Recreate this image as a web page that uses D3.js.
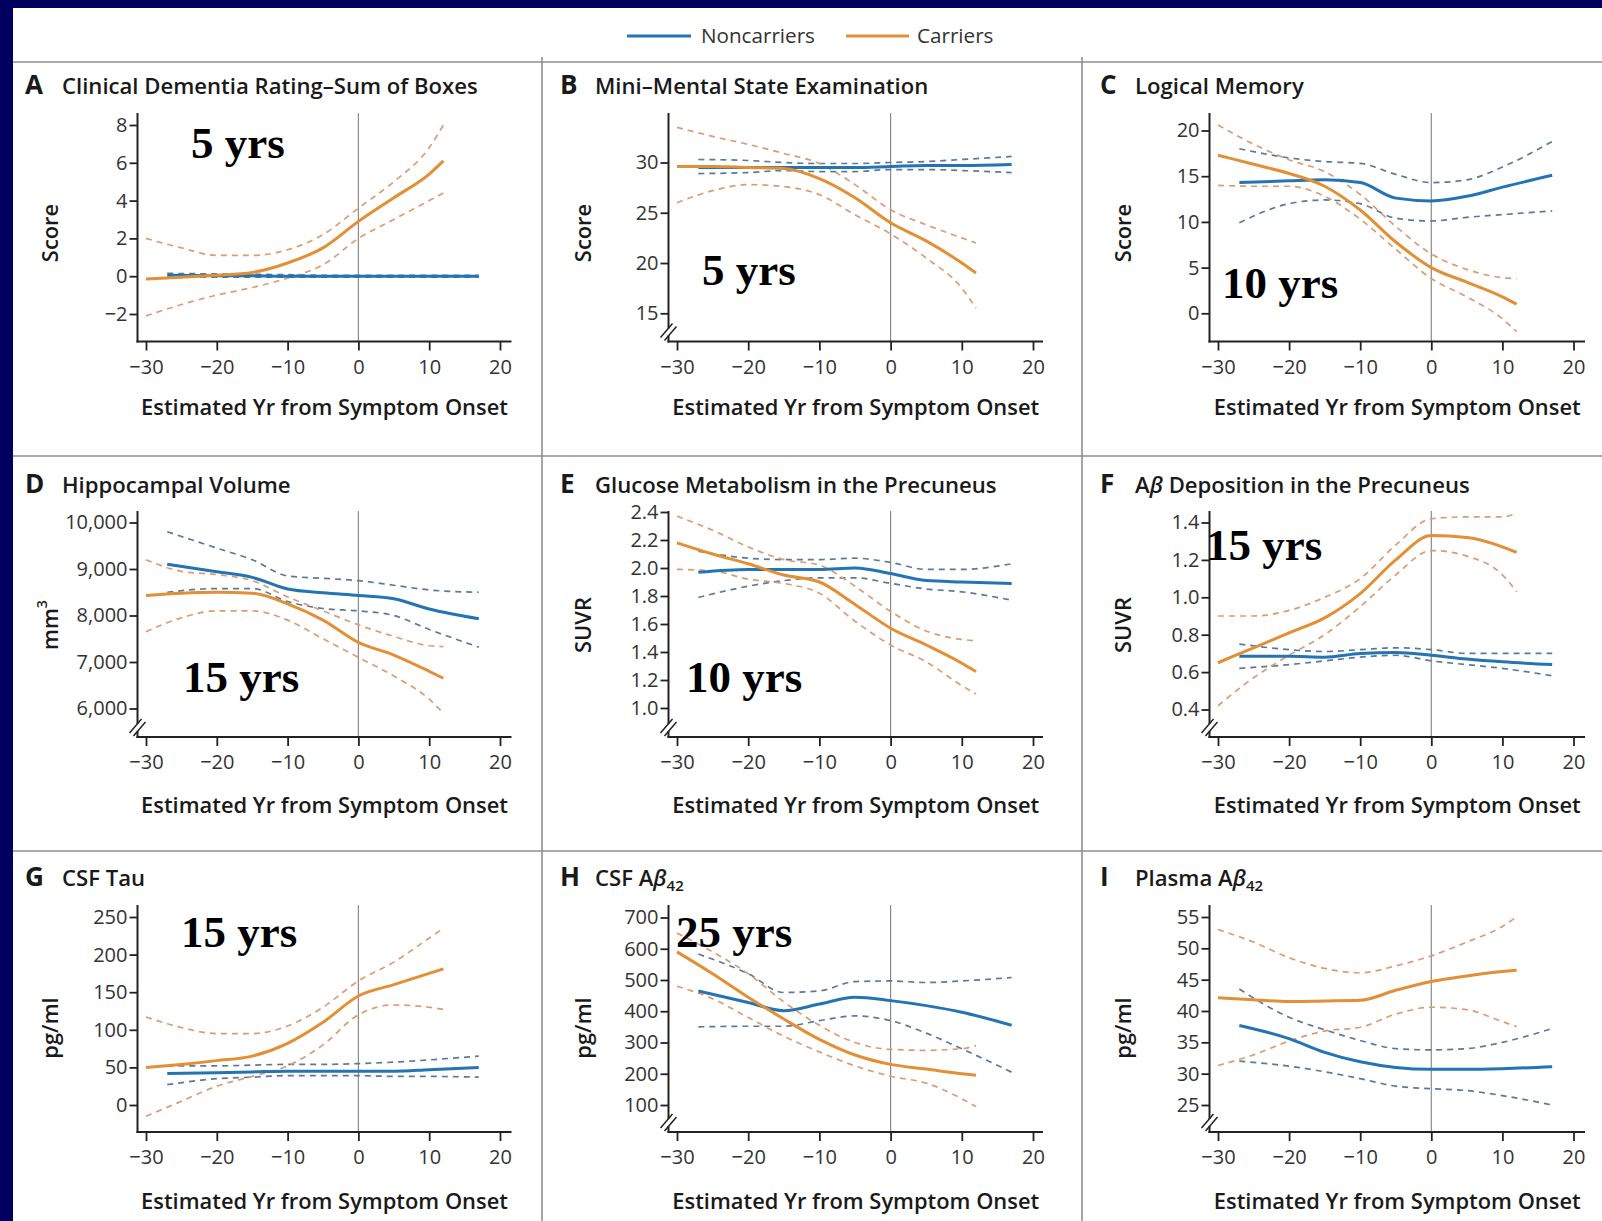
<!DOCTYPE html>
<html><head><meta charset="utf-8">
<script src="https://cdn.jsdelivr.net/npm/d3@7"></script>
<style>
html,body{margin:0;padding:0;background:#00005f;}
svg{display:block;}
text{font-family:'Open Sans','Noto Sans',sans-serif;}
text.note{font-family:'Liberation Serif','Times New Roman',serif;font-weight:700;}
</style></head><body>
<svg id="chart" width="1602" height="1221"></svg>
<script>
// ---------------- DATA ----------------
const xTicks = [-30, -20, -10, 0, 10, 20];
const xCar = [-30, -25, -20, -15, -10, -5, 0, 5, 10, 12];
const xNon = [-27, -20, -15, -10, -5, 0, 5, 10, 17];

// A  Clinical Dementia Rating–Sum of Boxes
const cdrTicks = [-2, 0, 2, 4, 6, 8];
const cdrNonMean = [0.05, 0.03, 0.02, 0.0, 0.0, 0.0, 0.0, 0.0, 0.0];
const cdrNonLo = [-0.05, -0.05, -0.05, -0.05, -0.05, -0.05, -0.05, -0.05, -0.05];
const cdrNonHi = [0.15, 0.12, 0.1, 0.08, 0.05, 0.05, 0.05, 0.05, 0.05];
const cdrCarMean = [-0.15, -0.05, 0.05, 0.2, 0.7, 1.5, 2.9, 4.15, 5.4, 6.1];
const cdrCarLo = [-2.1, -1.5, -1.0, -0.6, -0.1, 0.6, 2.0, 3.0, 4.0, 4.4];
const cdrCarHi = [2.0, 1.5, 1.1, 1.1, 1.4, 2.2, 3.6, 5.0, 6.8, 8.0];

// B  Mini–Mental State Examination
const mmseTicks = [15, 20, 25, 30];
const mmseNonMean = [29.5, 29.5, 29.5, 29.5, 29.5, 29.6, 29.7, 29.7, 29.8];
const mmseNonLo = [28.9, 29.0, 29.2, 29.1, 29.1, 29.3, 29.3, 29.2, 29.0];
const mmseNonHi = [30.3, 30.2, 30.0, 29.9, 29.9, 30.0, 30.1, 30.3, 30.6];
const mmseCarMean = [29.6, 29.6, 29.5, 29.4, 28.4, 26.5, 24.0, 22.2, 20.0, 19.0];
const mmseCarLo = [26.0, 27.2, 27.8, 27.6, 26.8, 24.8, 22.9, 20.5, 17.5, 15.5];
const mmseCarHi = [33.5, 32.6, 31.8, 30.9, 29.9, 27.8, 25.3, 23.8, 22.5, 22.0];

// C  Logical Memory
const lmTicks = [0, 5, 10, 15, 20];
const lmNonMean = [14.3, 14.5, 14.6, 14.3, 12.6, 12.3, 12.8, 13.8, 15.1];
const lmNonLo = [9.9, 12.0, 12.4, 12.0, 10.4, 10.1, 10.5, 10.8, 11.2];
const lmNonHi = [18.0, 17.0, 16.6, 16.4, 15.2, 14.3, 14.6, 16.0, 18.8];
const lmCarMean = [17.3, 16.3, 15.3, 13.9, 11.3, 7.8, 5.0, 3.4, 1.8, 1.0];
const lmCarLo = [14.0, 13.9, 13.9, 12.8, 10.3, 7.0, 3.8, 1.8, -0.6, -2.0];
const lmCarHi = [20.6, 18.5, 16.8, 15.5, 13.0, 9.5, 6.5, 4.8, 3.9, 3.8];

// D  Hippocampal Volume
const hvTicks = [6000, 7000, 8000, 9000, 10000];
const hvNonMean = [9100, 8940, 8820, 8570, 8490, 8430, 8360, 8140, 7930];
const hvNonLo = [8500, 8580, 8580, 8300, 8150, 8100, 8000, 7700, 7320];
const hvNonHi = [9800, 9450, 9200, 8850, 8800, 8750, 8650, 8550, 8500];
const hvCarMean = [8430, 8480, 8500, 8480, 8250, 7900, 7420, 7150, 6800, 6650];
const hvCarLo = [7650, 7950, 8100, 8100, 7900, 7500, 7100, 6700, 6200, 5900];
const hvCarHi = [9200, 8950, 8880, 8750, 8400, 8100, 7800, 7550, 7350, 7330];

// E  Glucose Metabolism in the Precuneus
const fdgTicks = [1.0, 1.2, 1.4, 1.6, 1.8, 2.0, 2.2, 2.4];
const fdgNonMean = [1.97, 1.99, 1.99, 1.99, 2.0, 1.96, 1.91, 1.90, 1.89];
const fdgNonLo = [1.79, 1.87, 1.91, 1.93, 1.93, 1.89, 1.85, 1.83, 1.77];
const fdgNonHi = [2.12, 2.07, 2.06, 2.06, 2.07, 2.04, 1.99, 1.99, 2.03];
const fdgCarMean = [2.18, 2.10, 2.03, 1.95, 1.90, 1.74, 1.57, 1.45, 1.32, 1.26];
const fdgCarLo = [1.99, 1.98, 1.92, 1.89, 1.82, 1.62, 1.45, 1.33, 1.16, 1.10];
const fdgCarHi = [2.37, 2.27, 2.15, 2.06, 2.02, 1.87, 1.69, 1.55, 1.49, 1.48];

// F  Aβ Deposition in the Precuneus
const pibTicks = [0.4, 0.6, 0.8, 1.0, 1.2, 1.4];
const pibNonMean = [0.685, 0.685, 0.68, 0.70, 0.705, 0.69, 0.67, 0.655, 0.64];
const pibNonLo = [0.62, 0.64, 0.66, 0.68, 0.69, 0.66, 0.64, 0.62, 0.58];
const pibNonHi = [0.75, 0.72, 0.71, 0.72, 0.73, 0.72, 0.70, 0.70, 0.70];
const pibCarMean = [0.65, 0.73, 0.81, 0.89, 1.02, 1.20, 1.33, 1.32, 1.27, 1.24];
const pibCarLo = [0.42, 0.57, 0.69, 0.80, 0.95, 1.12, 1.25, 1.22, 1.12, 1.03];
const pibCarHi = [0.90, 0.90, 0.93, 1.00, 1.10, 1.28, 1.42, 1.43, 1.43, 1.45];

// G  CSF Tau
const tauTicks = [0, 50, 100, 150, 200, 250];
const tauNonMean = [42, 43, 44, 45, 45, 45, 45, 47, 50];
const tauNonLo = [27, 35, 37, 39, 39, 39, 38, 38, 37];
const tauNonHi = [52, 52, 53, 54, 54, 55, 57, 60, 65];
const tauCarMean = [50, 54, 59, 65, 82, 110, 145, 160, 175, 181];
const tauCarLo = [-15, 5, 25, 38, 52, 80, 120, 133, 130, 127];
const tauCarHi = [117, 103, 95, 95, 105, 130, 165, 190, 222, 235];

// H  CSF Aβ42
const csfAbTicks = [100, 200, 300, 400, 500, 600, 700];
const csfAbNonMean = [465, 428, 402, 423, 445, 434, 418, 397, 355];
const csfAbNonLo = [350, 352, 352, 370, 385, 370, 330, 280, 205];
const csfAbNonHi = [583, 520, 460, 465, 495, 497, 492, 497, 508];
const csfAbCarMean = [590, 520, 445, 375, 310, 260, 230, 215, 200, 195];
const csfAbCarLo = [480, 440, 380, 320, 270, 225, 192, 170, 120, 95];
const csfAbCarHi = [650, 590, 520, 430, 355, 300, 278, 275, 280, 290];

// I  Plasma Aβ42
const plAbTicks = [25, 30, 35, 40, 45, 50, 55];
const plAbNonMean = [37.7, 35.6, 33.4, 31.9, 31.0, 30.7, 30.7, 30.8, 31.1];
const plAbNonLo = [32.0, 31.2, 30.3, 29.2, 28.0, 27.6, 27.3, 26.5, 25.0];
const plAbNonHi = [43.5, 39.0, 37.0, 35.3, 34.0, 33.8, 34.0, 35.0, 37.2];
const plAbCarMean = [42.1, 41.8, 41.5, 41.6, 41.7, 43.3, 44.7, 45.6, 46.3, 46.5];
const plAbCarLo = [31.3, 33.0, 35.2, 36.8, 37.4, 39.5, 40.6, 40.2, 38.3, 37.5];
const plAbCarHi = [53.0, 51.0, 48.5, 46.8, 46.1, 47.2, 48.8, 51.0, 53.5, 55.0];

const legendLabels = ['Noncarriers', 'Carriers'];
const xTitle = 'Estimated Yr from Symptom Onset';

// ---------------- PANEL TABLE (built from the arrays) ----------------
const panels = [
  {letter:'A', title:[{t:'Clinical Dementia Rating–Sum of Boxes'}], ylab:'Score', ticks:cdrTicks, fmt:'d', brk:false,
   non:[cdrNonMean, cdrNonLo, cdrNonHi], car:[cdrCarMean, cdrCarLo, cdrCarHi], note:'5 yrs'},
  {letter:'B', title:[{t:'Mini–Mental State Examination'}], ylab:'Score', ticks:mmseTicks, fmt:'d', brk:true,
   non:[mmseNonMean, mmseNonLo, mmseNonHi], car:[mmseCarMean, mmseCarLo, mmseCarHi], note:'5 yrs'},
  {letter:'C', title:[{t:'Logical Memory'}], ylab:'Score', ticks:lmTicks, fmt:'d', brk:false,
   non:[lmNonMean, lmNonLo, lmNonHi], car:[lmCarMean, lmCarLo, lmCarHi], note:'10 yrs'},
  {letter:'D', title:[{t:'Hippocampal Volume'}], ylab:'mm3', ticks:hvTicks, fmt:',', brk:true,
   non:[hvNonMean, hvNonLo, hvNonHi], car:[hvCarMean, hvCarLo, hvCarHi], note:'15 yrs'},
  {letter:'E', title:[{t:'Glucose Metabolism in the Precuneus'}], ylab:'SUVR', ticks:fdgTicks, fmt:'.1f', brk:true,
   non:[fdgNonMean, fdgNonLo, fdgNonHi], car:[fdgCarMean, fdgCarLo, fdgCarHi], note:'10 yrs'},
  {letter:'F', title:[{t:'A'},{t:'β',it:true},{t:' Deposition in the Precuneus'}], ylab:'SUVR', ticks:pibTicks, fmt:'.1f', brk:true,
   non:[pibNonMean, pibNonLo, pibNonHi], car:[pibCarMean, pibCarLo, pibCarHi], note:'15 yrs'},
  {letter:'G', title:[{t:'CSF Tau'}], ylab:'pg/ml', ticks:tauTicks, fmt:'d', brk:false,
   non:[tauNonMean, tauNonLo, tauNonHi], car:[tauCarMean, tauCarLo, tauCarHi], note:'15 yrs'},
  {letter:'H', title:[{t:'CSF A'},{t:'β',it:true},{t:'42',sub:true}], ylab:'pg/ml', ticks:csfAbTicks, fmt:'d', brk:true,
   non:[csfAbNonMean, csfAbNonLo, csfAbNonHi], car:[csfAbCarMean, csfAbCarLo, csfAbCarHi], note:'25 yrs'},
  {letter:'I', title:[{t:'Plasma A'},{t:'β',it:true},{t:'42',sub:true}], ylab:'pg/ml', ticks:plAbTicks, fmt:'d', brk:true,
   non:[plAbNonMean, plAbNonLo, plAbNonHi], car:[plAbCarMean, plAbCarLo, plAbCarHi], note:null}
];

// ---------------- LAYOUT ----------------
const W = 1602, H = 1221;
const COLS = [
  {axisX:137.5, x30:146, x20:500, right:511.5, letterX:25, titleX:62, ylabX:49},
  {axisX:668.5, x30:677, x20:1033, right:1043, letterX:560, titleX:595, ylabX:582},
  {axisX:1209.5, x30:1218, x20:1573.5, right:1585, letterX:1100, titleX:1135, ylabX:1122}
];
const ROWS = [
  {sep:62, top:113, xAxis:341.5, titleY:94, xlabY:415, ylabY:233},
  {sep:456, top:511, xAxis:737, titleY:493, xlabY:813, ylabY:625},
  {sep:851, top:905, xAxis:1132, titleY:886, xlabY:1209, ylabY:1028}
];
// pixel of lowest / highest y tick per panel
const YPIX = [[314,125],[313.3,162.5],[313.3,130.5],[708.5,522.5],[708,512],[709.5,522.5],[1105,917],[1105,917.5],[1105,917]];
// annotation positions (left x, baseline y)
const NOTEPOS = [[191,158],[702,285],[1222,298],[183,692],[686,692],[1206,560],[181,947],[676,947],null];

const BLUE = '#2474b4', ORANGE = '#e38f35';
const BLUE_CI = '#5a7a9c', ORANGE_CI = '#dc9c72';
const FONT = "'Open Sans','Noto Sans',sans-serif";

const svg = d3.select('#chart');
svg.append('rect').attr('width', W).attr('height', H).attr('fill', '#00005f');
svg.append('rect').attr('x', 13).attr('y', 8).attr('width', W - 13).attr('height', H - 8).attr('fill', '#ffffff');

// separators
const sepG = svg.append('g').attr('stroke', '#8f8f8f').attr('stroke-width', 1.6);
ROWS.forEach(r => sepG.append('line').attr('x1', 13).attr('x2', W).attr('y1', r.sep).attr('y2', r.sep));
[542, 1082].forEach(x => sepG.append('line').attr('x1', x).attr('x2', x).attr('y1', 57).attr('y2', H));

// legend
const leg = svg.append('g');
const legItems = [{c:BLUE, x1:627, x2:691, tx:701}, {c:ORANGE, x1:846, x2:909, tx:917}];
legItems.forEach((d, i) => {
  leg.append('line').attr('x1', d.x1).attr('x2', d.x2).attr('y1', 36).attr('y2', 36)
     .attr('stroke', d.c).attr('stroke-width', 3);
  leg.append('text').attr('class', 'legtxt').attr('x', d.tx).attr('y', 43)
     .attr('font-size', 19).attr('fill', '#333').text(legendLabels[i]);
});

function fitSize(textSel, base, target) {
  const w = textSel.node().getComputedTextLength();
  return base * target / w;
}
const probe = svg.append('text').attr('font-size', 20).attr('font-weight', 600).text(panels[0].title[0].t);
const titleSize = fitSize(probe, 20, 416);
probe.remove();
const probe2 = svg.append('text').attr('font-size', 20).attr('font-weight', 600).text(xTitle);
const xTitleSize = fitSize(probe2, 20, 367);
probe2.remove();
const probe3 = svg.append('text').attr('font-size', 19).text(legendLabels[0]);
const legSize = fitSize(probe3, 19, 114);
probe3.remove();
svg.selectAll('.legtxt').attr('font-size', legSize);

const line = (x, y) => d3.line().x(d => x(d[0])).y(d => y(d[1])).curve(d3.curveMonotoneX);

panels.forEach((p, i) => {
  const col = COLS[i % 3], row = ROWS[Math.floor(i / 3)];
  const g = svg.append('g');
  const x = d3.scaleLinear().domain([-30, 20]).range([col.x30, col.x20]);
  const y = d3.scaleLinear().domain([p.ticks[0], p.ticks[p.ticks.length - 1]]).range(YPIX[i]);

  // title
  g.append('text').attr('x', col.letterX).attr('y', row.titleY).attr('font-size', titleSize * 1.18)
    .attr('font-weight', 700).attr('fill', '#1a1a1a').text(p.letter);
  const tt = g.append('text').attr('x', col.titleX).attr('y', row.titleY).attr('font-size', titleSize)
    .attr('font-weight', 600).attr('fill', '#1a1a1a');
  p.title.forEach(s => {
    const ts = tt.append('tspan').text(s.t);
    if (s.it) ts.attr('font-style', 'italic');
    if (s.sub) ts.attr('font-size', titleSize * 0.68).attr('dy', 5);
  });

  // y label
  const yl = g.append('text').attr('transform', `translate(${col.ylabX},${row.ylabY}) rotate(-90)`)
    .attr('text-anchor', 'middle').attr('dominant-baseline', 'central')
    .attr('font-size', xTitleSize).attr('font-weight', 600).attr('fill', '#1a1a1a');
  if (p.ylab === 'mm3') {
    yl.append('tspan').text('mm');
    yl.append('tspan').text('3').attr('font-size', xTitleSize * 0.65).attr('dy', -8);
  } else yl.text(p.ylab);

  // x title
  g.append('text').attr('x', (col.axisX + col.right) / 2).attr('y', row.xlabY).attr('text-anchor', 'middle')
    .attr('font-size', xTitleSize).attr('font-weight', 600).attr('fill', '#1a1a1a').text(xTitle);

  // zero line
  g.append('line').attr('x1', x(0)).attr('x2', x(0)).attr('y1', row.top).attr('y2', row.xAxis)
    .attr('stroke', '#8a8a8a').attr('stroke-width', 1.2);

  // axes
  const fmt = d3.format(p.fmt);
  const xa = g.append('g').attr('transform', `translate(0,${row.xAxis})`)
    .call(d3.axisBottom(x).tickValues(xTicks).tickSize(9).tickPadding(9).tickSizeOuter(0)
      .tickFormat(d => d3.format('d')(d).replace('-', '−')));
  xa.select('.domain').remove();
  xa.selectAll('line').attr('stroke', '#222').attr('stroke-width', 1.8);
  xa.selectAll('text').attr('font-size', 20).attr('fill', '#333').attr('font-family', FONT);
  g.append('line').attr('x1', col.axisX - 1).attr('x2', col.right).attr('y1', row.xAxis).attr('y2', row.xAxis)
    .attr('stroke', '#222').attr('stroke-width', 2);

  const ya = g.append('g').attr('transform', `translate(${col.axisX},0)`)
    .call(d3.axisLeft(y).tickValues(p.ticks).tickSize(8).tickPadding(2).tickSizeOuter(0)
      .tickFormat(d => fmt(d).replace('-', '−')));
  ya.select('.domain').remove();
  ya.selectAll('line').attr('stroke', '#222').attr('stroke-width', 1.8);
  ya.selectAll('text').attr('font-size', 20).attr('fill', '#333').attr('font-family', FONT);
  g.append('line').attr('x1', col.axisX).attr('x2', col.axisX).attr('y1', row.top).attr('y2', row.xAxis + 1)
    .attr('stroke', '#222').attr('stroke-width', 2);

  if (p.brk) {
    const bx = col.axisX, by = row.xAxis;
    g.append('rect').attr('x', bx - 3).attr('y', by - 13).attr('width', 6).attr('height', 7).attr('fill', '#fff');
    [[-8, -4], [-4, -1]].forEach(o => {
      g.append('line').attr('x1', bx + o[0]).attr('y1', by + o[1]).attr('x2', bx + o[0] + 12).attr('y2', by + o[1] - 14)
        .attr('stroke', '#222').attr('stroke-width', 1.5);
    });
  }

  // series
  const L = line(x, y);
  const zip = (xs, vs) => xs.map((v, k) => [v, vs[k]]);
  [[xNon, p.non, BLUE_CI], [xCar, p.car, ORANGE_CI]].forEach(([xs, s, c]) => {
    [1, 2].forEach(k => g.append('path').attr('d', L(zip(xs, s[k]))).attr('fill', 'none')
      .attr('stroke', c).attr('stroke-width', 1.7).attr('stroke-dasharray', '6,5'));
  });
  g.append('path').attr('d', L(zip(xNon, p.non[0]))).attr('fill', 'none').attr('stroke', BLUE).attr('stroke-width', 3);
  g.append('path').attr('d', L(zip(xCar, p.car[0]))).attr('fill', 'none').attr('stroke', ORANGE).attr('stroke-width', 3);

  // annotation
  if (p.note) {
    g.append('text').attr('class', 'note').attr('x', NOTEPOS[i][0]).attr('y', NOTEPOS[i][1])
      .style('font-family', "'Liberation Serif','Times New Roman',serif").style('font-weight', 700)
      .style('font-size', '45px').attr('fill', '#000').text(p.note);
  }
});
</script>
</body></html>
